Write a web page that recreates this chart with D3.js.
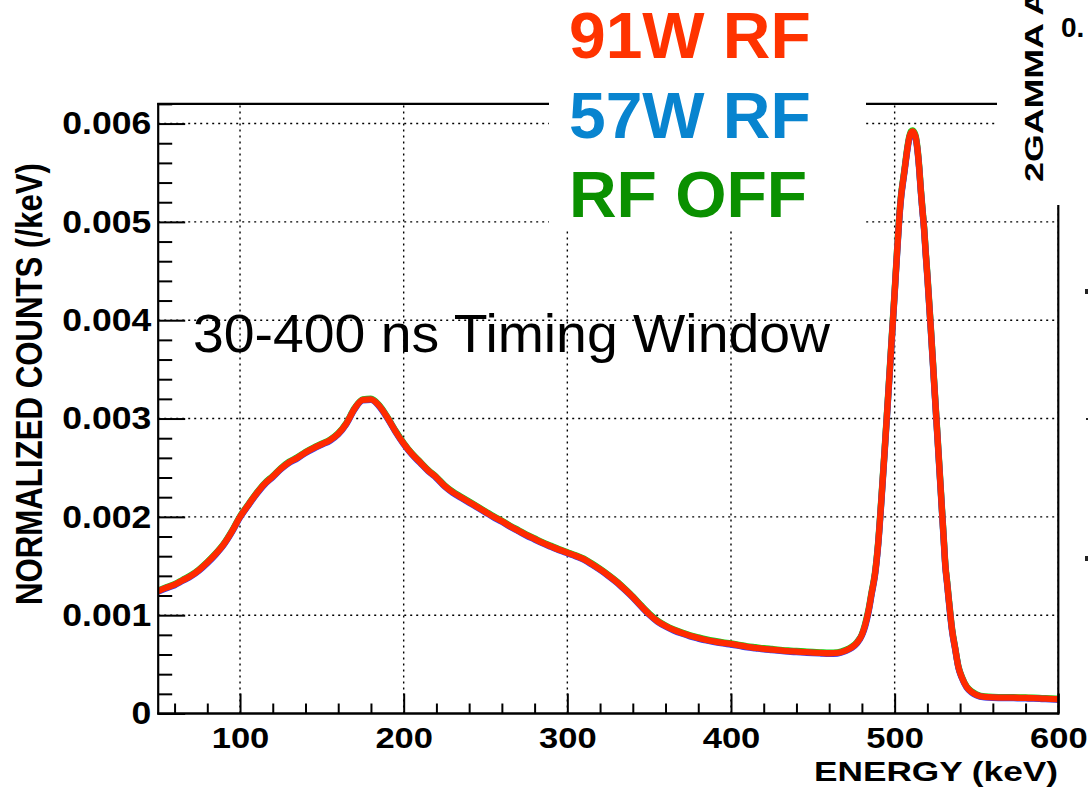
<!DOCTYPE html>
<html>
<head>
<meta charset="utf-8">
<script src="https://cdn.jsdelivr.net/npm/d3@7"></script>
<style>
  html, body { margin: 0; padding: 0; background: #fff; }
  svg { display: block; }
  text { font-family: "Liberation Sans", Arial, Helvetica, sans-serif; }
</style>
</head>
<body>
<svg id="chart" width="1088" height="791"></svg>
<script>
// ---------------- data ----------------
const energyKeV = [50,55,60,65,70,75,80,85,90,95,100,105,110,115,120,125,130,135,140,145,
  150,155,160,165,170,175,180,185,190,195,200,205,210,215,220,225,230,235,240,245,
  250,255,260,265,270,275,280,285,290,295,300,305,310,315,320,325,330,335,340,345,
  350,355,360,365,370,375,380,385,390,395,400,405,410,415,420,425,430,435,440,445,
  450,455,460,465,470,474,477,480,482,484,486,488,490,492,494,496,498,500,
  501,502,503,504,505,506,507,508,509,510,511,512,513,514,515,516,517,518,519,520,
  522,524,526,528,530,531,532,533,534,535,537,539,541,544,547,550,
  555,560,565,570,575,580,585,590,595,600];

// normalized counts, in units of 1e-3 /keV
const rf91W = [1.245,1.28,1.31,1.355,1.40,1.46,1.535,1.62,1.72,1.85,
  2.00,2.12,2.235,2.335,2.41,2.49,2.555,2.60,2.655,2.70,
  2.74,2.78,2.845,2.95,3.10,3.19,3.195,3.13,3.01,2.87,
  2.745,2.64,2.555,2.47,2.40,2.315,2.25,2.20,2.15,2.10,
  2.05,2.00,1.955,1.905,1.86,1.815,1.775,1.735,1.70,1.665,
  1.635,1.605,1.57,1.52,1.465,1.405,1.34,1.265,1.185,1.095,
  1.01,0.94,0.89,0.85,0.818,0.79,0.768,0.748,0.732,0.718,
  0.707,0.693,0.678,0.668,0.658,0.65,0.642,0.635,0.63,0.625,
  0.62,0.616,0.613,0.616,0.64,0.675,0.72,0.80,0.90,1.04,1.23,1.42,1.74,2.20,2.70,3.22,3.75,4.28,
  4.56,4.83,5.08,5.27,5.40,5.52,5.65,5.77,5.86,5.91,5.92,5.90,5.85,5.73,5.55,5.32,5.12,4.93,4.68,4.45,
  3.94,3.40,2.86,2.32,1.77,1.50,1.34,1.17,1.01,0.86,0.66,0.47,0.37,0.27,0.22,0.19,
  0.168,0.163,0.162,0.161,0.160,0.158,0.156,0.152,0.148,0.145];

const rf57W = [1.24,1.275,1.305,1.35,1.395,1.455,1.53,1.615,1.715,1.845,
  1.995,2.115,2.23,2.33,2.405,2.485,2.55,2.595,2.65,2.695,
  2.735,2.775,2.84,2.945,3.095,3.185,3.19,3.125,3.005,2.865,
  2.74,2.635,2.55,2.465,2.395,2.31,2.245,2.195,2.145,2.095,
  2.045,1.995,1.95,1.90,1.855,1.81,1.77,1.73,1.695,1.66,
  1.63,1.60,1.565,1.515,1.46,1.40,1.335,1.26,1.18,1.09,
  1.005,0.935,0.885,0.845,0.813,0.785,0.763,0.743,0.727,0.713,
  0.702,0.688,0.673,0.663,0.653,0.645,0.637,0.63,0.625,0.62,
  0.615,0.611,0.608,0.611,0.635,0.67,0.715,0.795,0.89,1.03,1.22,1.41,1.73,2.19,2.69,3.21,3.74,4.27,
  4.55,4.82,5.07,5.26,5.39,5.51,5.64,5.76,5.85,5.90,5.91,5.89,5.84,5.72,5.54,5.31,5.11,4.92,4.67,4.44,
  3.93,3.39,2.85,2.31,1.76,1.49,1.33,1.16,1.00,0.85,0.655,0.465,0.365,0.265,0.215,0.185,
  0.164,0.159,0.158,0.157,0.156,0.154,0.152,0.148,0.144,0.141];

const rfOff = [1.25,1.285,1.315,1.36,1.405,1.465,1.54,1.625,1.725,1.855,
  2.005,2.125,2.24,2.34,2.415,2.495,2.56,2.605,2.66,2.705,
  2.745,2.785,2.85,2.955,3.105,3.195,3.20,3.135,3.015,2.875,
  2.75,2.645,2.56,2.475,2.405,2.32,2.255,2.205,2.155,2.105,
  2.055,2.005,1.96,1.91,1.865,1.82,1.78,1.74,1.705,1.67,
  1.64,1.61,1.575,1.525,1.47,1.41,1.345,1.27,1.19,1.10,
  1.015,0.945,0.895,0.855,0.823,0.795,0.773,0.753,0.737,0.723,
  0.712,0.698,0.683,0.673,0.663,0.655,0.647,0.64,0.635,0.63,
  0.625,0.621,0.618,0.621,0.645,0.68,0.725,0.805,0.91,1.05,1.24,1.43,1.75,2.21,2.71,3.23,3.76,4.29,
  4.57,4.84,5.09,5.28,5.41,5.53,5.66,5.78,5.87,5.92,5.93,5.91,5.86,5.74,5.56,5.33,5.13,4.94,4.69,4.46,
  3.95,3.41,2.87,2.33,1.78,1.51,1.35,1.18,1.02,0.87,0.665,0.475,0.375,0.275,0.225,0.195,
  0.172,0.167,0.166,0.165,0.164,0.162,0.160,0.156,0.152,0.149];

const seriesNames = ["91W RF", "57W RF", "RF OFF"];
const xMajorTicks = [100, 200, 300, 400, 500, 600];
const xMinorTicks = [60,80,120,140,160,180,220,240,260,280,320,340,360,380,420,440,460,480,520,540,560,580];
const yMajorTicks = [0, 0.001, 0.002, 0.003, 0.004, 0.005, 0.006];
const yMinorTicks = [0.0002,0.0004,0.0006,0.0008,0.0012,0.0014,0.0016,0.0018,0.0022,0.0024,0.0026,0.0028,
  0.0032,0.0034,0.0036,0.0038,0.0042,0.0044,0.0046,0.0048,0.0052,0.0054,0.0056,0.0058,0.0062];
const xTitle = "ENERGY (keV)";
const yTitle = "NORMALIZED COUNTS (/keV)";
const annotation = "30-400 ns Timing Window";
const sidePanelTitle = "2GAMMA A";
const sidePanelTick = "0.";

// ---------------- drawing ----------------
const svg = d3.select("#chart");
const FONT = '"Liberation Sans", Arial, Helvetica, sans-serif';
const L = 158.2, R = 1058.3, B = 713.5, T = 103.9;
const x = d3.scaleLinear().domain([50, 600]).range([L, R]);
const y = d3.scaleLinear().domain([0, 0.0062]).range([B, T]);

svg.append("rect").attr("width", 1088).attr("height", 791).attr("fill", "#fff");

// grid (dotted)
const grid = svg.append("g").attr("stroke", "#000").attr("stroke-width", 1.4)
  .attr("stroke-dasharray", "2 4").attr("fill", "none");
grid.selectAll("line.h").data(yMajorTicks.filter(d => d > 0)).join("line")
  .attr("x1", L).attr("x2", R).attr("y1", d => y(d)).attr("y2", d => y(d));
grid.selectAll("line.v").data(xMajorTicks).join("line")
  .attr("x1", d => x(d)).attr("x2", d => x(d)).attr("y1", B).attr("y2", T);

// curves
svg.append("clipPath").attr("id", "frameClip").append("rect")
  .attr("x", L).attr("y", T).attr("width", R - L).attr("height", B - T);
const line = d3.line()
  .x((d, i) => x(energyKeV[i]))
  .y(d => y(d * 1e-3))
  .curve(d3.curveMonotoneX);
const curves = svg.append("g").attr("clip-path", "url(#frameClip)").attr("fill", "none")
  .attr("stroke-linejoin", "round").attr("stroke-linecap", "round");
curves.append("path").attr("d", line(rfOff)).attr("stroke", "#12d812").attr("stroke-width", 6.5);
curves.append("path").attr("d", line(rf57W)).attr("stroke", "#2a3cff").attr("stroke-width", 6.5);
curves.append("path").attr("d", line(rf91W)).attr("stroke", "#ff2a00").attr("stroke-width", 6.3);

// axes (ticks inside the frame, ROOT style)
const xAxis = svg.append("g").attr("transform", `translate(0,${B})`)
  .call(d3.axisBottom(x).tickValues(xMajorTicks).tickSizeInner(-20).tickSizeOuter(0).tickPadding(13).tickFormat(d3.format("d")));
svg.append("g").attr("transform", `translate(0,${B})`)
  .call(d3.axisBottom(x).tickValues(xMinorTicks).tickSizeInner(-10).tickSizeOuter(0).tickFormat(""));
const yAxis = svg.append("g").attr("transform", `translate(${L},0)`)
  .call(d3.axisLeft(y).tickValues(yMajorTicks).tickSizeInner(-27).tickSizeOuter(0).tickPadding(7)
    .tickFormat(d => d === 0 ? "0" : d3.format(".3f")(d)));
svg.append("g").attr("transform", `translate(${L},0)`)
  .call(d3.axisLeft(y).tickValues(yMinorTicks).tickSizeInner(-14).tickSizeOuter(0).tickFormat(""));
svg.selectAll(".domain").remove();
svg.selectAll(".tick line").attr("stroke", "#000").attr("stroke-width", 2);

function stretch(sel, sx) {
  sel.each(function () {
    const len = this.getComputedTextLength();
    d3.select(this).attr("textLength", len * sx).attr("lengthAdjust", "spacingAndGlyphs");
  });
}
xAxis.selectAll("text").attr("font-family", FONT).attr("font-size", 30).attr("font-weight", "bold").attr("fill", "#000")
  .call(stretch, 1.15);
yAxis.selectAll("text").attr("font-family", FONT).attr("font-size", 32).attr("font-weight", "bold").attr("fill", "#000")
  .call(stretch, 1.11);

// frame
const frame = svg.append("g").attr("stroke", "#000").attr("fill", "none");
frame.append("line").attr("x1", L).attr("x2", L).attr("y1", T - 1).attr("y2", B + 1).attr("stroke-width", 2.2);
frame.append("line").attr("x1", L - 1).attr("x2", R + 1).attr("y1", B).attr("y2", B).attr("stroke-width", 2.6);
frame.append("line").attr("x1", L - 1).attr("x2", R).attr("y1", T).attr("y2", T).attr("stroke-width", 2.2);
frame.append("line").attr("x1", R).attr("x2", R).attr("y1", T).attr("y2", B + 1).attr("stroke-width", 2.2);

// covering boxes (legend pad and neighbouring panel)
svg.append("rect").attr("x", 549).attr("y", 0).attr("width", 317).attr("height", 229).attr("fill", "#fff");
svg.append("rect").attr("x", 997).attr("y", 0).attr("width", 91).attr("height", 205).attr("fill", "#fff");

// legend (coloured text)
const legendColors = ["#ff3300", "#0884cf", "#0a9000"];
const legendBase = [58, 137.5, 216.5];
svg.append("g").selectAll("text").data(seriesNames).join("text")
  .attr("x", 569).attr("y", (d, i) => legendBase[i])
  .attr("font-family", FONT).attr("font-size", 64).attr("font-weight", "bold")
  .attr("fill", (d, i) => legendColors[i]).text(d => d)
  .call(stretch, 1.03);

// annotation
svg.append("text").attr("x", 193).attr("y", 352).attr("font-family", FONT).attr("font-size", 54)
  .attr("fill", "#000").attr("textLength", 637).attr("lengthAdjust", "spacingAndGlyphs").text(annotation);

// axis titles
svg.append("text").attr("x", 1058).attr("y", 781).attr("text-anchor", "end")
  .attr("font-family", FONT).attr("font-size", 28).attr("font-weight", "bold")
  .attr("textLength", 244).attr("lengthAdjust", "spacingAndGlyphs").text(xTitle);
svg.append("text").attr("transform", "translate(42,605) rotate(-90)")
  .attr("font-family", FONT).attr("font-size", 36).attr("font-weight", "bold")
  .attr("textLength", 442).attr("lengthAdjust", "spacingAndGlyphs").text(yTitle);

// neighbouring panel fragments at the right edge
svg.append("text").attr("transform", "translate(1043,182) rotate(-90)")
  .attr("font-family", FONT).attr("font-size", 26).attr("font-weight", "bold")
  .attr("textLength", 192).attr("lengthAdjust", "spacingAndGlyphs").text(sidePanelTitle);
svg.append("text").attr("x", 1061).attr("y", 37)
  .attr("font-family", FONT).attr("font-size", 28).attr("font-weight", "bold").text(sidePanelTick);
const sideMarks = [[1085, 289, 3, 5], [1086, 418, 2, 2], [1085, 556, 3, 5]];
svg.append("g").selectAll("rect").data(sideMarks).join("rect")
  .attr("x", d => d[0]).attr("y", d => d[1]).attr("width", d => d[2]).attr("height", d => d[3]).attr("fill", "#222");
</script>
</body>
</html>
